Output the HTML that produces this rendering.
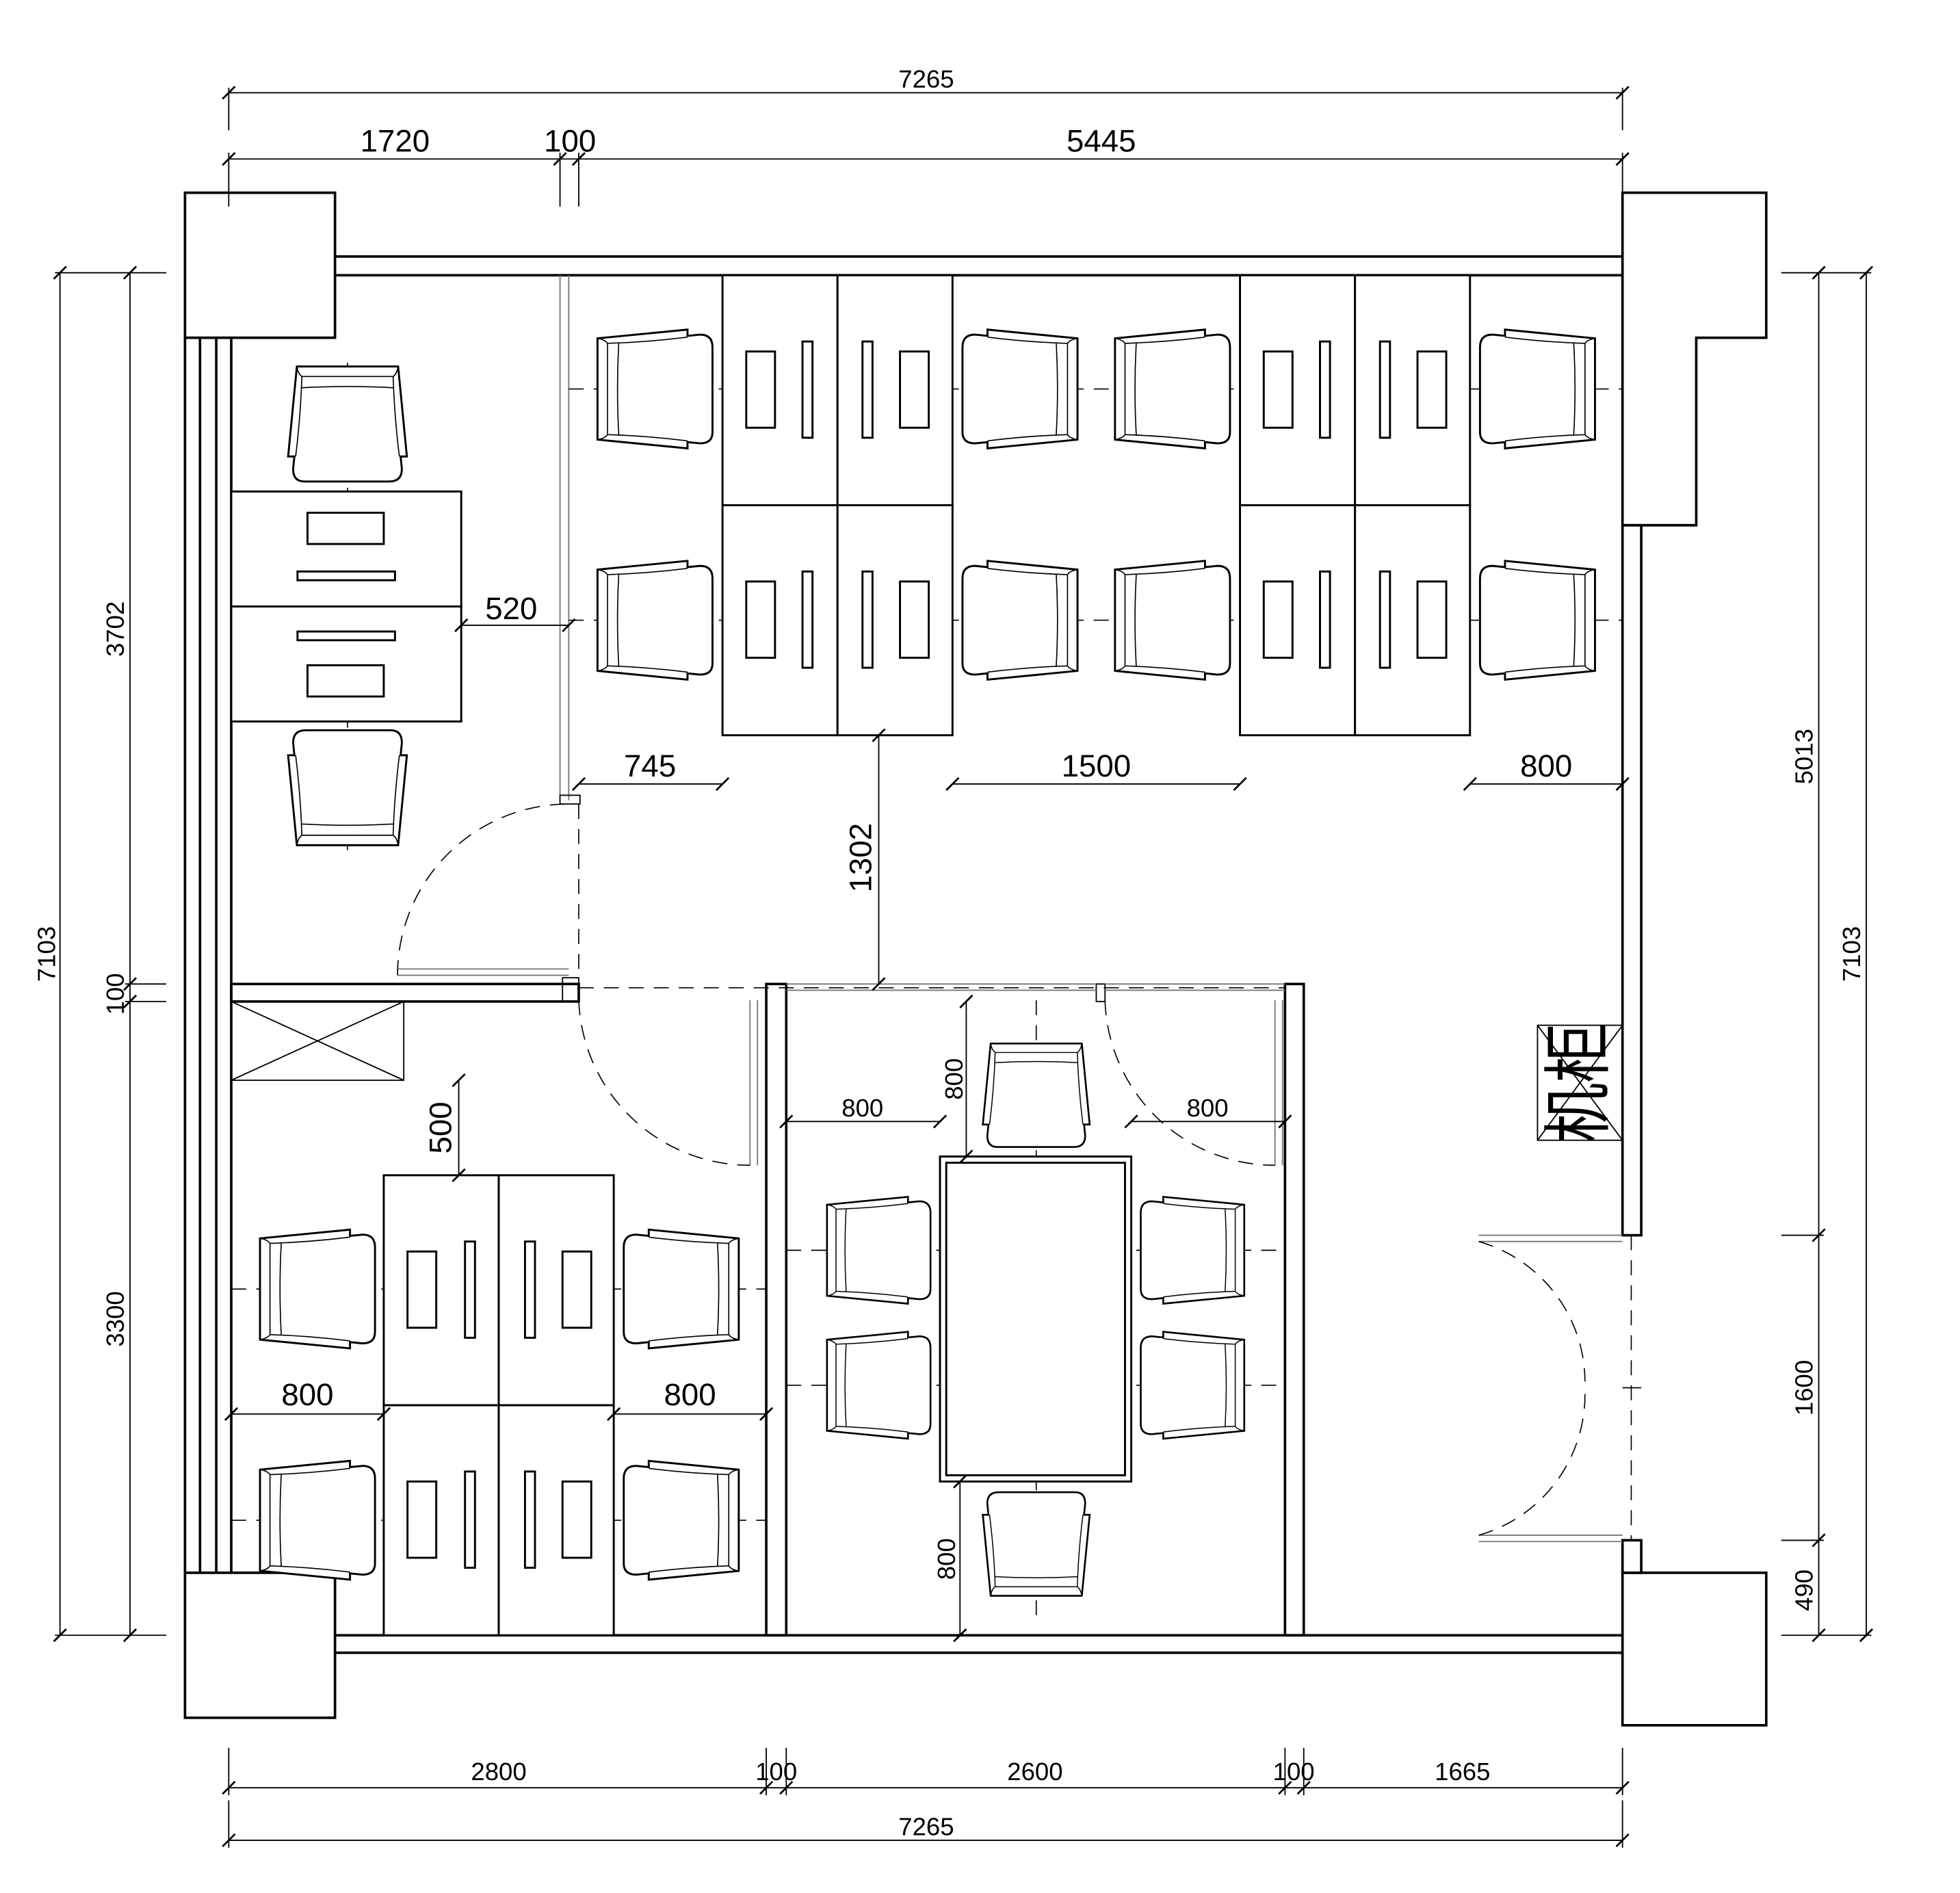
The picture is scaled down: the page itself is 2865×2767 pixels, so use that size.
<!DOCTYPE html>
<html><head><meta charset="utf-8"><style>
html,body{margin:0;padding:0;background:#fff}
svg{display:block}
text{font-family:"Liberation Sans","Noto Sans CJK SC",sans-serif;fill:#000}
</style></head><body>
<svg width="2865" height="2767" viewBox="0 0 1568 1514" xmlns="http://www.w3.org/2000/svg">
<defs>
<g id="ch" transform="translate(-46,-47.5)" fill="#fff" stroke="#000">
<path d="M0,7 L72,0 L72,5 L82,4 Q92,4 92,14 L92,82 Q92,91 82,91 L72,90 L72,95 L0,88 Z" stroke-width="1.6"/>
<path d="M8,11 Q40,10 72,6 M8,84 Q40,85 72,89 M8,11 L8,84 M17,11 Q15,47 17,84 M0,7 Q6,8 8,11 M0,88 Q6,87 8,84" fill="none" stroke-width="0.9"/>
</g>
<g id="tk"><line x1="-5" y1="5" x2="5" y2="-5" stroke="#000" stroke-width="1.5"/></g>
</defs>
<rect width="1568" height="1514" fill="#fff"/>
<g fill="none" stroke="#000" stroke-width="2">
<rect x="148" y="154" width="120" height="116"/>
<rect x="148" y="1258" width="120" height="116"/>
<path d="M1298,154 L1413,154 L1413,270 L1357,270 L1357,420 L1298,420 Z"/>
<rect x="1298" y="1258" width="115" height="122"/>
<path d="M268,205 H1298 M268,220 H1298 M268,1308 H1298 M268,1322 H1298"/>
<path d="M148,270 V1258 M160,270 V1258 M173,270 V1258 M185,270 V1258"/>
<rect x="1298" y="420" width="15" height="568"/>
<rect x="1298" y="1232" width="15" height="26"/>
<rect x="185" y="787" width="278" height="14"/>
<rect x="613" y="787" width="16" height="521"/>
<rect x="1028" y="787" width="15" height="521"/>
</g>
<g fill="none" stroke="#000" stroke-width="1">
<rect x="450" y="782" width="13" height="19"/>
<path d="M448,220 V640 M455,220 V640" stroke="#777"/>
<rect x="448" y="636" width="16" height="7"/>
<path d="M318,775 H455 M318,780 H455" stroke="#777"/>
<rect x="877" y="787" width="7" height="14"/>
<path d="M629,787 H877 M629,792 H877 M884,787 H1028 M884,792 H1028" stroke="#777"/>
<path d="M600,800 V932 M606,800 V932 M1020,800 V932 M1026,800 V932" stroke="#777"/>
<path d="M1183,988 H1298 M1183,993 H1298 M1183,1228 H1298 M1183,1233 H1298" stroke="#777"/>
<path d="M1298,1110 H1313"/>
<rect x="185" y="801" width="138" height="63"/>
<path d="M185,801 L323,864 M323,801 L185,864"/>
<rect x="1230" y="820" width="68" height="92"/>
<path d="M1230,820 L1298,912 M1298,820 L1230,912"/>
</g>
<g fill="none" stroke="#000" stroke-width="0.9" stroke-dasharray="12,8">
<path d="M318,780 A137,137 0 0 1 455,643"/>
<path d="M463,643 V780"/>
<path d="M463,790 H1028"/>
<path d="M463,800 A137,137 0 0 0 600,932"/>
<path d="M884,800 A136,136 0 0 0 1020,932"/>
<path d="M1183,993 A117,117 0 0 1 1268,1105"/>
<path d="M1183,1228 A117,117 0 0 0 1268,1115"/>
<path d="M1305,988 V1232"/>
<path d="M455,311 H1298 M455,496 H1298"/>
<path d="M278,290 V680"/>
<path d="M185,1031 H613 M185,1216 H613"/>
<path d="M829,800 V1300 M629,1000 H1028 M629,1108 H1028"/>
</g>
<g fill="#fff" stroke="#000" stroke-width="1.6">
<rect x="578" y="220" width="92" height="184"/><rect x="670" y="220" width="92" height="184"/>
<rect x="578" y="404" width="92" height="184"/><rect x="670" y="404" width="92" height="184"/>
<rect x="992" y="220" width="92" height="184"/><rect x="1084" y="220" width="92" height="184"/>
<rect x="992" y="404" width="92" height="184"/><rect x="1084" y="404" width="92" height="184"/>
<rect x="185" y="393" width="184" height="92"/><rect x="185" y="485" width="184" height="92"/>
<rect x="307" y="940" width="92" height="184"/><rect x="399" y="940" width="92" height="184"/>
<rect x="307" y="1124" width="92" height="184"/><rect x="399" y="1124" width="92" height="184"/>
<rect x="752" y="925" width="153" height="260"/>
<rect x="757" y="930" width="143" height="250"/>
</g>
<g fill="none" stroke="#000" stroke-width="1.6">
<rect x="597" y="281" width="23" height="61"/><rect x="642" y="273" width="8" height="77"/>
<rect x="690" y="273" width="8" height="77"/><rect x="720" y="281" width="23" height="61"/>
<rect x="597" y="465" width="23" height="61"/><rect x="642" y="457" width="8" height="77"/>
<rect x="690" y="457" width="8" height="77"/><rect x="720" y="465" width="23" height="61"/>
<rect x="1011" y="281" width="23" height="61"/><rect x="1056" y="273" width="8" height="77"/>
<rect x="1104" y="273" width="8" height="77"/><rect x="1134" y="281" width="23" height="61"/>
<rect x="1011" y="465" width="23" height="61"/><rect x="1056" y="457" width="8" height="77"/>
<rect x="1104" y="457" width="8" height="77"/><rect x="1134" y="465" width="23" height="61"/>
<rect x="246" y="410" width="61" height="25"/><rect x="238" y="457" width="78" height="7"/>
<rect x="238" y="505" width="78" height="7"/><rect x="246" y="532" width="61" height="25"/>
<rect x="326" y="1001" width="23" height="61"/><rect x="372" y="993" width="8" height="77"/>
<rect x="420" y="993" width="8" height="77"/><rect x="450" y="1001" width="23" height="61"/>
<rect x="326" y="1185" width="23" height="61"/><rect x="372" y="1177" width="8" height="77"/>
<rect x="420" y="1177" width="8" height="77"/><rect x="450" y="1185" width="23" height="61"/>
</g>
<use href="#ch" transform="translate(524,311)"/>
<use href="#ch" transform="translate(524,496)"/>
<use href="#ch" transform="translate(816,311) scale(-1,1)"/>
<use href="#ch" transform="translate(816,496) scale(-1,1)"/>
<use href="#ch" transform="translate(938,311)"/>
<use href="#ch" transform="translate(938,496)"/>
<use href="#ch" transform="translate(1230,311) scale(-1,1)"/>
<use href="#ch" transform="translate(1230,496) scale(-1,1)"/>
<use href="#ch" transform="translate(278,339) rotate(90)"/>
<use href="#ch" transform="translate(278,630) rotate(-90)"/>
<use href="#ch" transform="translate(254,1031)"/>
<use href="#ch" transform="translate(254,1216)"/>
<use href="#ch" transform="translate(545,1031) scale(-1,1)"/>
<use href="#ch" transform="translate(545,1216) scale(-1,1)"/>
<use href="#ch" transform="translate(829,876) rotate(90) scale(0.9)"/>
<use href="#ch" transform="translate(829,1235) rotate(-90) scale(0.9)"/>
<use href="#ch" transform="translate(703,1000) scale(0.9)"/>
<use href="#ch" transform="translate(703,1108) scale(0.9)"/>
<use href="#ch" transform="translate(954,1000) scale(-0.9,0.9)"/>
<use href="#ch" transform="translate(954,1108) scale(-0.9,0.9)"/>
<g fill="none" stroke="#000" stroke-width="1">
<path d="M183,74 H1298 M183,70 V104 M1298,70 V104"/>
<path d="M183,127 H1298 M183,122 V165 M448,122 V165 M463,122 V165 M1298,122 V165"/>
<path d="M183,1430 H1298 M183,1398 V1436 M613,1398 V1436 M629,1398 V1436 M1028,1398 V1436 M1043,1398 V1436 M1298,1398 V1436"/>
<path d="M183,1472 H1298 M183,1440 V1478 M1298,1440 V1478"/>
<path d="M48,218 V1308 M104,218 V1308 M44,218 H133 M44,1308 H133 M100,787 H133 M100,801 H133"/>
<path d="M1493,218 V1308 M1455,218 V1308 M1425,218 H1497 M1425,1308 H1497 M1425,988 H1459 M1425,1232 H1459"/>
<path d="M369,500 H455 M463,627 H578 M762,627 H992 M1176,627 H1298"/>
<path d="M703,588 V787 M367,864 V940"/>
<path d="M185,1131 H307 M491,1131 H613"/>
<path d="M629,897 H752 M905,897 H1028 M773,801 V925 M768,1185 V1308"/>
</g>
<g>
<use href="#tk" x="183" y="74"/><use href="#tk" x="1298" y="74"/>
<use href="#tk" x="183" y="127"/><use href="#tk" x="448" y="127"/><use href="#tk" x="463" y="127"/><use href="#tk" x="1298" y="127"/>
<use href="#tk" x="183" y="1430"/><use href="#tk" x="613" y="1430"/><use href="#tk" x="629" y="1430"/><use href="#tk" x="1028" y="1430"/><use href="#tk" x="1043" y="1430"/><use href="#tk" x="1298" y="1430"/>
<use href="#tk" x="183" y="1472"/><use href="#tk" x="1298" y="1472"/>
<use href="#tk" x="48" y="218"/><use href="#tk" x="48" y="1308"/>
<use href="#tk" x="104" y="218"/><use href="#tk" x="104" y="787"/><use href="#tk" x="104" y="801"/><use href="#tk" x="104" y="1308"/>
<use href="#tk" x="1493" y="218"/><use href="#tk" x="1493" y="1308"/>
<use href="#tk" x="1455" y="218"/><use href="#tk" x="1455" y="988"/><use href="#tk" x="1455" y="1232"/><use href="#tk" x="1455" y="1308"/>
<use href="#tk" x="369" y="500"/><use href="#tk" x="455" y="500"/>
<use href="#tk" x="463" y="627"/><use href="#tk" x="578" y="627"/><use href="#tk" x="762" y="627"/><use href="#tk" x="992" y="627"/><use href="#tk" x="1176" y="627"/><use href="#tk" x="1298" y="627"/>
<use href="#tk" x="703" y="588"/><use href="#tk" x="703" y="787"/>
<use href="#tk" x="367" y="864"/><use href="#tk" x="367" y="940"/>
<use href="#tk" x="185" y="1131"/><use href="#tk" x="307" y="1131"/><use href="#tk" x="491" y="1131"/><use href="#tk" x="613" y="1131"/>
<use href="#tk" x="629" y="897"/><use href="#tk" x="752" y="897"/><use href="#tk" x="905" y="897"/><use href="#tk" x="1028" y="897"/>
<use href="#tk" x="773" y="801"/><use href="#tk" x="773" y="925"/><use href="#tk" x="768" y="1185"/><use href="#tk" x="768" y="1308"/>
</g>
<g text-anchor="middle">
<text x="741" y="70" font-size="20">7265</text>
<text x="316" y="121" font-size="25">1720</text>
<text x="456" y="121" font-size="25">100</text>
<text x="881" y="121" font-size="25">5445</text>
<text x="399" y="1424" font-size="20">2800</text>
<text x="621" y="1424" font-size="20">100</text>
<text x="828" y="1424" font-size="20">2600</text>
<text x="1035" y="1424" font-size="20">100</text>
<text x="1170" y="1424" font-size="20">1665</text>
<text x="741" y="1468" font-size="20">7265</text>
<text x="409" y="495" font-size="25">520</text>
<text x="520" y="621" font-size="25">745</text>
<text x="877" y="621" font-size="25">1500</text>
<text x="1237" y="621" font-size="25">800</text>
<text x="246" y="1124" font-size="25">800</text>
<text x="552" y="1124" font-size="25">800</text>
<text x="690" y="893" font-size="20">800</text>
<text x="966" y="893" font-size="20">800</text>
<text font-size="25" transform="translate(697,686) rotate(-90)">1302</text>
<text font-size="25" transform="translate(361,902) rotate(-90)">500</text>
<text font-size="20" transform="translate(770,863) rotate(-90)">800</text>
<text font-size="20" transform="translate(764,1247) rotate(-90)">800</text>
<text font-size="20" transform="translate(44,763) rotate(-90)">7103</text>
<text font-size="20" transform="translate(99,503) rotate(-90)">3702</text>
<text font-size="20" transform="translate(99,795) rotate(-90)">100</text>
<text font-size="20" transform="translate(99,1055) rotate(-90)">3300</text>
<text font-size="20" transform="translate(1488,763) rotate(-90)">7103</text>
<text font-size="20" transform="translate(1450,605) rotate(-90)">5013</text>
<text font-size="20" transform="translate(1450,1110) rotate(-90)">1600</text>
<text font-size="20" transform="translate(1450,1272) rotate(-90)">490</text>
<text font-size="48" transform="translate(1282,866) rotate(-90) scale(1,1.15)" font-family="'Noto Serif CJK SC','Noto Sans CJK SC',serif">机柜</text>
</g>
</svg>
</body></html>
